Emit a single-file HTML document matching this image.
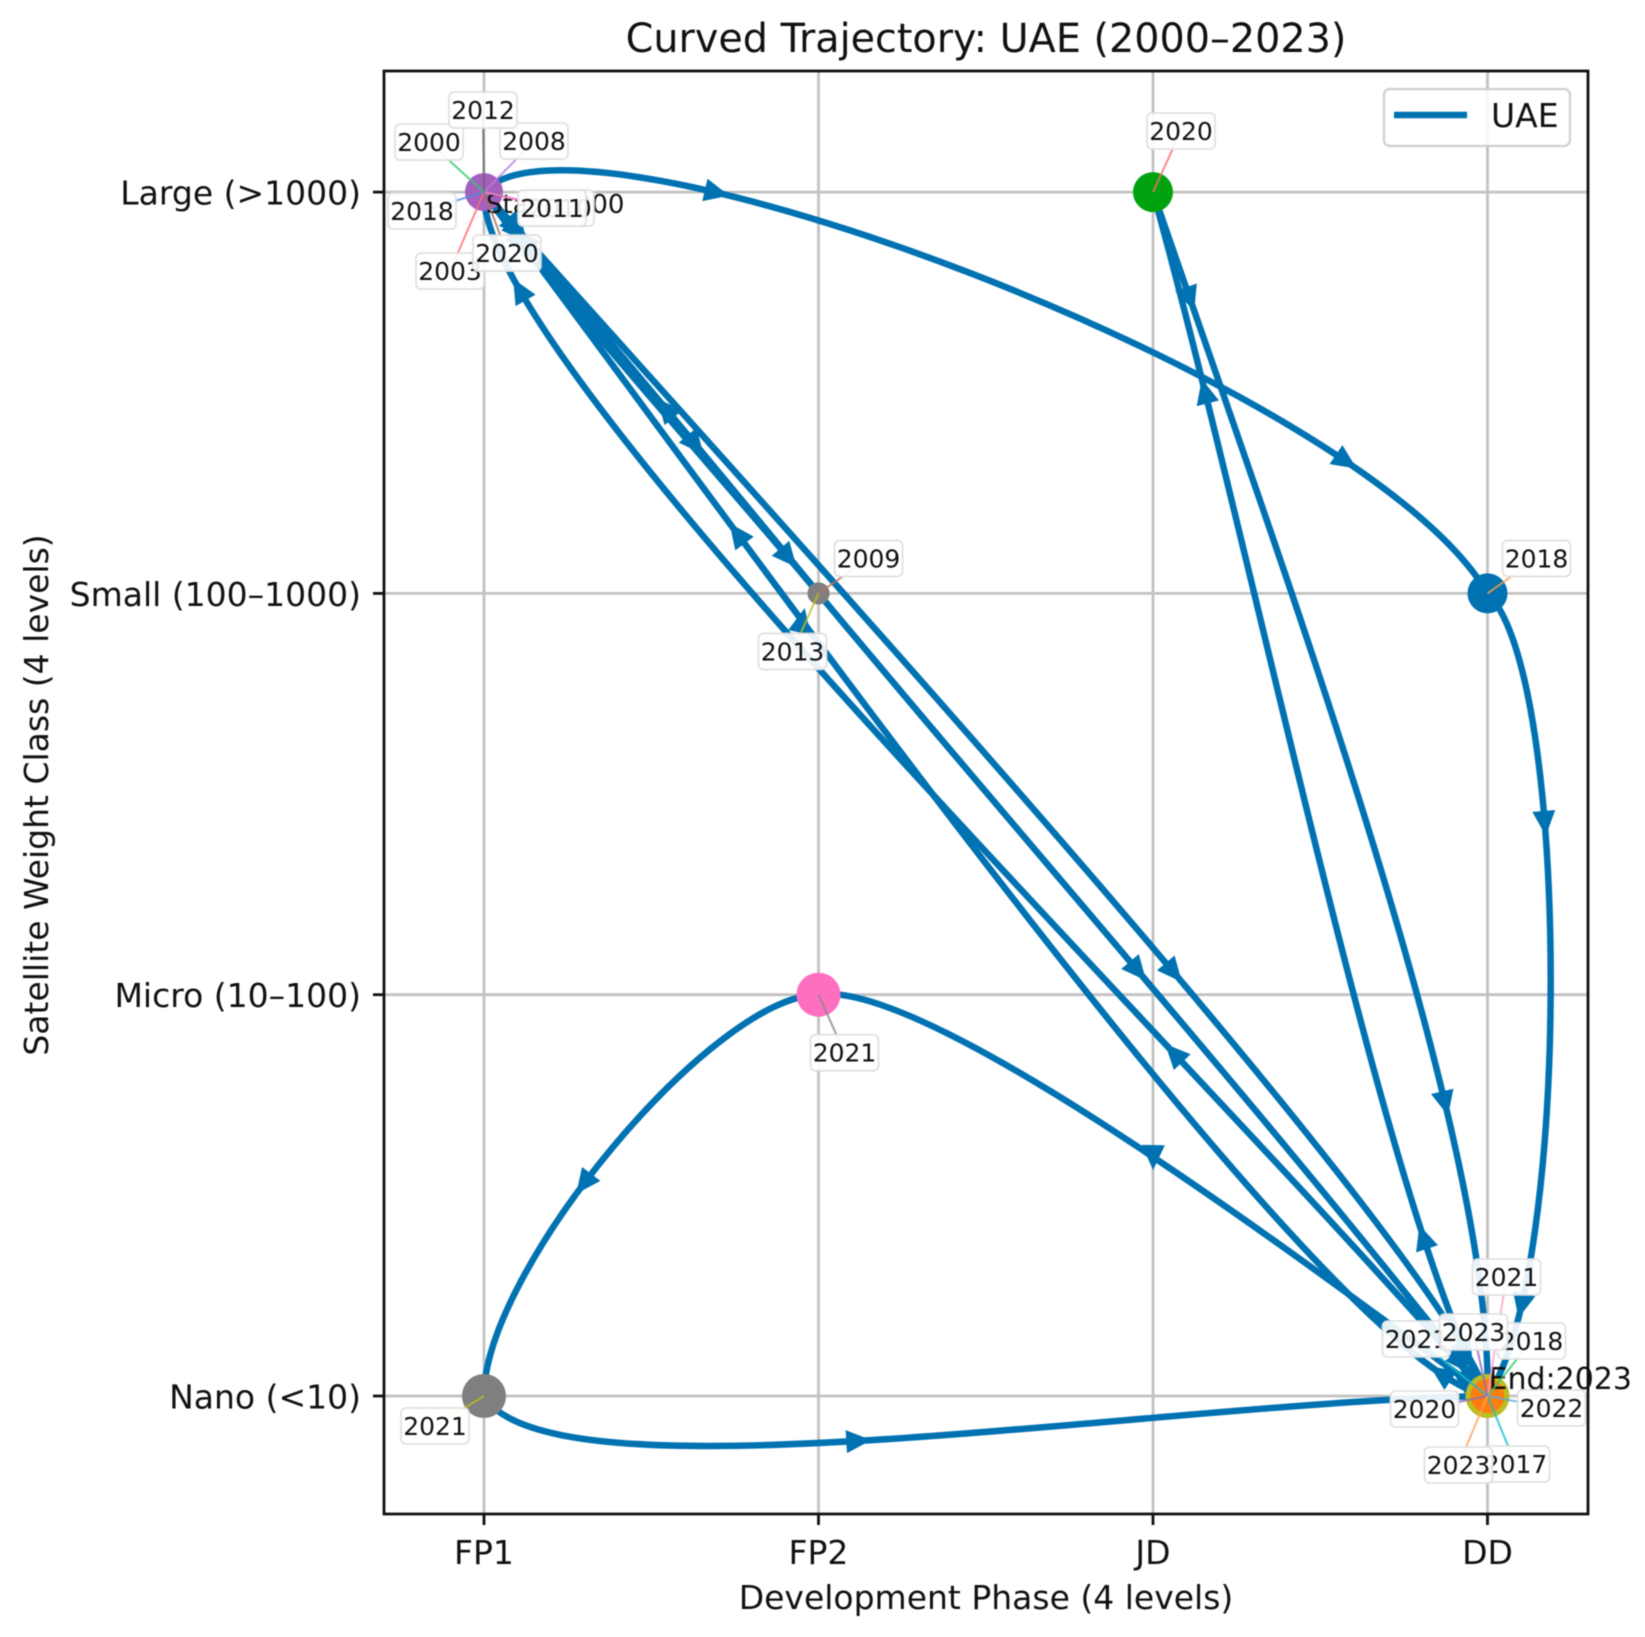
<!DOCTYPE html>
<html lang="en">
<head>
<meta charset="utf-8">
<title>Curved Trajectory: UAE (2000–2023)</title>
<style>
html,body{margin:0;padding:0;background:#fff;}
svg{display:block;width:1645px;height:1637px;font-family:"DejaVu Sans","Liberation Sans",sans-serif;filter:blur(.6px);}
</style>
</head>
<body>
<svg id="chart" xmlns="http://www.w3.org/2000/svg" width="1645" height="1637" viewBox="0 0 1645 1637">
  <rect x="0" y="0" width="1645" height="1637" fill="#fff"/>
  <g id="grid"></g>
  <g id="curves"></g>
  <g id="arrows"></g>
  <g id="markers"></g>
  <rect x="384" y="71" width="1204" height="1443" fill="none" stroke="#111" stroke-width="2.8"/>
  <g id="ticks"></g>
  <text x="986" y="52" font-size="39.7" text-anchor="middle" fill="#111">Curved Trajectory: UAE (2000–2023)</text>
  <text x="986" y="1609" font-size="33" text-anchor="middle" fill="#111">Development Phase (4 levels)</text>
  <text transform="translate(48,795) rotate(-90)" font-size="33" text-anchor="middle" fill="#111">Satellite Weight Class (4 levels)</text>
  <g id="endpoints"></g>
  <g id="labels"></g>
  <g>
    <rect x="1384" y="89" width="186" height="57" rx="6" fill="#fff" fill-opacity=".85" stroke="#cfcfcf" stroke-width="2.2"/>
    <line x1="1394" y1="115" x2="1467" y2="115" stroke="#0072b2" stroke-width="6.5"/>
    <text x="1491" y="127" font-size="33" fill="#111">UAE</text>
  </g>
</svg>
<script>
const phaseLabels = ["FP1", "FP2", "JD", "DD"];
const weightLabels = ["Nano (<10)", "Micro (10–100)", "Small (100–1000)", "Large (>1000)"];

const years =        [2000,2003,2008,2009,2010,2011,2012,2013,2017,2018,2018,2018,2020,2020,2020,2021,2021,2021,2021,2022,2023,2023];
const phaseValues =  [0,0,0,1,0,0,0,1,3,0,3,3,2,3,0,3,1,0,3,3,3,3];
const weightValues = [3,3,3,2,3,3,3,2,0,3,2,0,3,0,3,0,1,0,0,0,0,0];

const markerColors = ["#a55fbf","#a55fbf","#a55fbf","#7f7f7f","#a55fbf","#a55fbf","#a55fbf","#7f7f7f","#ff7f0e","#a55fbf","#0072b2","#ff7f0e","#00a30f","#ff7f0e","#a55fbf","#bcbd22","#ff6fc0","#7f7f7f","#bcbd22","#ff7f0e","#bcbd22","#ff7f0e"];
const markerRadii =  [12,12,12,11,12,12,12,11,12,14,20,12,20,12,19,14,22,22,14,12,22,17];
const leaderColors = ["#2ecc71","#ff6b6b","#b57edc","#c0705a","#e0a0c0","#e377c2","#666666","#bcbd22","#17becf","#4a90d9","#ff9f40","#2ecc71","#ff6b6b","#9467bd","#a57060","#ff9ecf","#888888","#bcbd22","#17becf","#5aa7e0","#9467bd","#ffa060"];
const labelOffsetX = [-55,-34,50,50,76,68,-1,-26,28,-62,49,44,28,-63,23,19,26,-49,-71,64,-14,-29];
const labelOffsetY = [-50,79,-51,-35,16,16,-82,58,68,19,-35,-55,-61,13,61,-119,58,30,-57,12,-64,69];

const edgeU1 = [.33,.33,.20,.33,.30,.04,.10,.15,.33,.08,.33,.30,.129,.065];
const edgeV1 = [.002,-.003,-.020,.000,.005,.120,.105,.040,.020,.065,.012,-.028,-.154,-.109];
const edgeU2 = [.67,.67,.67,.67,.92,.82,.85,.70,.80,.70,.90,.89,.816,.667];
const edgeV2 = [.002,-.002,.000,.010,.072,.140,.105,.000,.060,.015,.037,-.090,-.154,-.006];

const arrowEdges =     [0,0,2,2,1,1,3,3,4,4,5,5,6,6,7,7,8,8,9,9,9,10,10,10,11,11,12,13];
const arrowFractions = [.10,.63,.12,.91,.459,.88,.473,.96,.296,.9375,.20,.833,.286,.887,.136,.835,.09,.765,.03,.66,.729,.03,.664,.97,.04,.525,.565,.373];
const arrowTurns =     [0,0,0,0,0,0,0,0,0,0,0,0,0,0,0,0,0,0,0,49,0,0,0,0,0,-123,0,0];

const plotLeft = 384, plotRight = 1588, plotTop = 71, plotBottom = 1514;
const SVG_NS = "http://www.w3.org/2000/svg";

function xScale(v){ return 484 + 334.5 * v; }
function yScale(v){ return 1396 - 401.3 * v; }

function mk(tag, parent, attrs){
  const el = document.createElementNS(SVG_NS, tag);
  for (const k in attrs) el.setAttribute(k, attrs[k]);
  parent.appendChild(el);
  return el;
}

const gridG = document.getElementById("grid");
const ticksG = document.getElementById("ticks");
phaseLabels.forEach(function(name, i){
  const x = xScale(i);
  const g = mk("line", gridG, {x1:x, x2:x, y1:plotTop, y2:plotBottom, stroke:"#c2c2c2", "stroke-width":2.8});
  
  
  const t = mk("line", ticksG, {x1:x, x2:x, y1:plotBottom, y2:plotBottom+11, stroke:"#111", "stroke-width":2.8});
  
  
  const l = mk("text", ticksG, {x:x, y:1564, "font-size":33, "text-anchor":"middle", fill:"#111"});
  
  
  l.textContent = name;
});
weightLabels.forEach(function(name, i){
  const y = yScale(i);
  const g = mk("line", gridG, {x1:plotLeft, x2:plotRight, y1:y, y2:y, stroke:"#c2c2c2", "stroke-width":2.8});
  
  
  const t = mk("line", ticksG, {x1:plotLeft-11, x2:plotLeft, y1:y, y2:y, stroke:"#111", "stroke-width":2.8});
  
  
  const l = mk("text", ticksG, {x:361, y:y+12.5, "font-size":33, "text-anchor":"end", fill:"#111"});
  
  
  l.textContent = name;
});

const pts = years.map(function(y, i){ return {x:xScale(phaseValues[i]), y:yScale(weightValues[i])}; });
const edges = [];
for (let i = 1; i < pts.length; i++){
  const a = pts[i-1], b = pts[i];
  if (a.x === b.x && a.y === b.y) continue;
  const k = edges.length;
  const dx = b.x-a.x, dy = b.y-a.y;
  const u1 = edgeU1[k] === undefined ? .33 : edgeU1[k];
  const v1 = edgeV1[k] || 0;
  const u2 = edgeU2[k] === undefined ? .67 : edgeU2[k];
  const v2 = edgeV2[k] || 0;
  edges.push({
    x0:a.x, y0:a.y, x3:b.x, y3:b.y, dx:dx, dy:dy,
    x1:a.x + dx*u1 + dy*v1, y1:a.y + dy*u1 - dx*v1,
    x2:a.x + dx*u2 + dy*v2, y2:a.y + dy*u2 - dx*v2
  });
}

function bez(e, t){
  const m = 1-t;
  return {
    x: m*m*m*e.x0 + 3*m*m*t*e.x1 + 3*m*t*t*e.x2 + t*t*t*e.x3,
    y: m*m*m*e.y0 + 3*m*m*t*e.y1 + 3*m*t*t*e.y2 + t*t*t*e.y3
  };
}
function tangent(e, t){
  const m = 1-t;
  return {
    x: 3*m*m*(e.x1-e.x0) + 6*m*t*(e.x2-e.x1) + 3*t*t*(e.x3-e.x2),
    y: 3*m*m*(e.y1-e.y0) + 6*m*t*(e.y2-e.y1) + 3*t*t*(e.y3-e.y2)
  };
}
function tForFraction(e, s){
  let lo = 0, hi = 1;
  const len2 = e.dx*e.dx + e.dy*e.dy;
  for (let i = 0; i < 30; i++){
    const mid = (lo+hi)/2, p = bez(e, mid);
    const f = ((p.x-e.x0)*e.dx + (p.y-e.y0)*e.dy) / len2;
    if (f < s) lo = mid; else hi = mid;
  }
  return (lo+hi)/2;
}

const curvesG = document.getElementById("curves");
edges.forEach(function(e){
  const p = mk("path", curvesG, {
    d:"M"+e.x0+" "+e.y0+" C"+e.x1+" "+e.y1+" "+e.x2+" "+e.y2+" "+e.x3+" "+e.y3,
    fill:"none", stroke:"#0072b2", "stroke-width":6.5, "stroke-linecap":"round"
  });
  
  
});

const arrowsG = document.getElementById("arrows");
arrowEdges.forEach(function(k, i){
  const e = edges[k];
  if (!e) return;
  const t = tForFraction(e, arrowFractions[i]);
  const p = bez(e, t), d = tangent(e, t);
  const ang = Math.atan2(d.y, d.x)*180/Math.PI + arrowTurns[i];
  const a = mk("polygon", arrowsG, {
    points:"13,0 -12,-11.5 -12,11.5",
    transform:"translate("+p.x+","+p.y+") rotate("+ang+")",
    fill:"#0072b2"
  });
  
  
});

const markersG = document.getElementById("markers");
pts.forEach(function(p, i){
  const c = mk("circle", markersG, {cx:p.x, cy:p.y, r:markerRadii[i], fill:markerColors[i]});
  
  
});

const endG = document.getElementById("endpoints");
const first = pts[0], last = pts[pts.length-1];
const startText = mk("text", endG, {x:first.x+2, y:first.y+21, "font-size":26, fill:"#111"});


startText.textContent = "Start:" + years[0];
const endText = mk("text", endG, {x:last.x+1, y:last.y-7, "font-size":30, fill:"#111"});


endText.textContent = "End:" + years[years.length-1];

const labelsG = document.getElementById("labels");
pts.forEach(function(p, i){
  const lx = p.x + labelOffsetX[i], ly = p.y + labelOffsetY[i];
  const g = mk("g", labelsG, {});
  
  
  const leader = mk("line", g, {x1:p.x, y1:p.y, x2:lx, y2:ly, stroke:leaderColors[i], "stroke-width":2, "stroke-opacity":.8});
  
  
  const box = mk("rect", g, {x:lx-34, y:ly-18, width:68, height:36, rx:5, fill:"#fff", "fill-opacity":.9, stroke:"#dedede", "stroke-width":1.6});
  
  
  const txt = mk("text", g, {x:lx, y:ly+9, "font-size":25, "text-anchor":"middle", fill:"#111"});
  
  
  txt.textContent = String(years[i]);
});
</script>
</body>
</html>
